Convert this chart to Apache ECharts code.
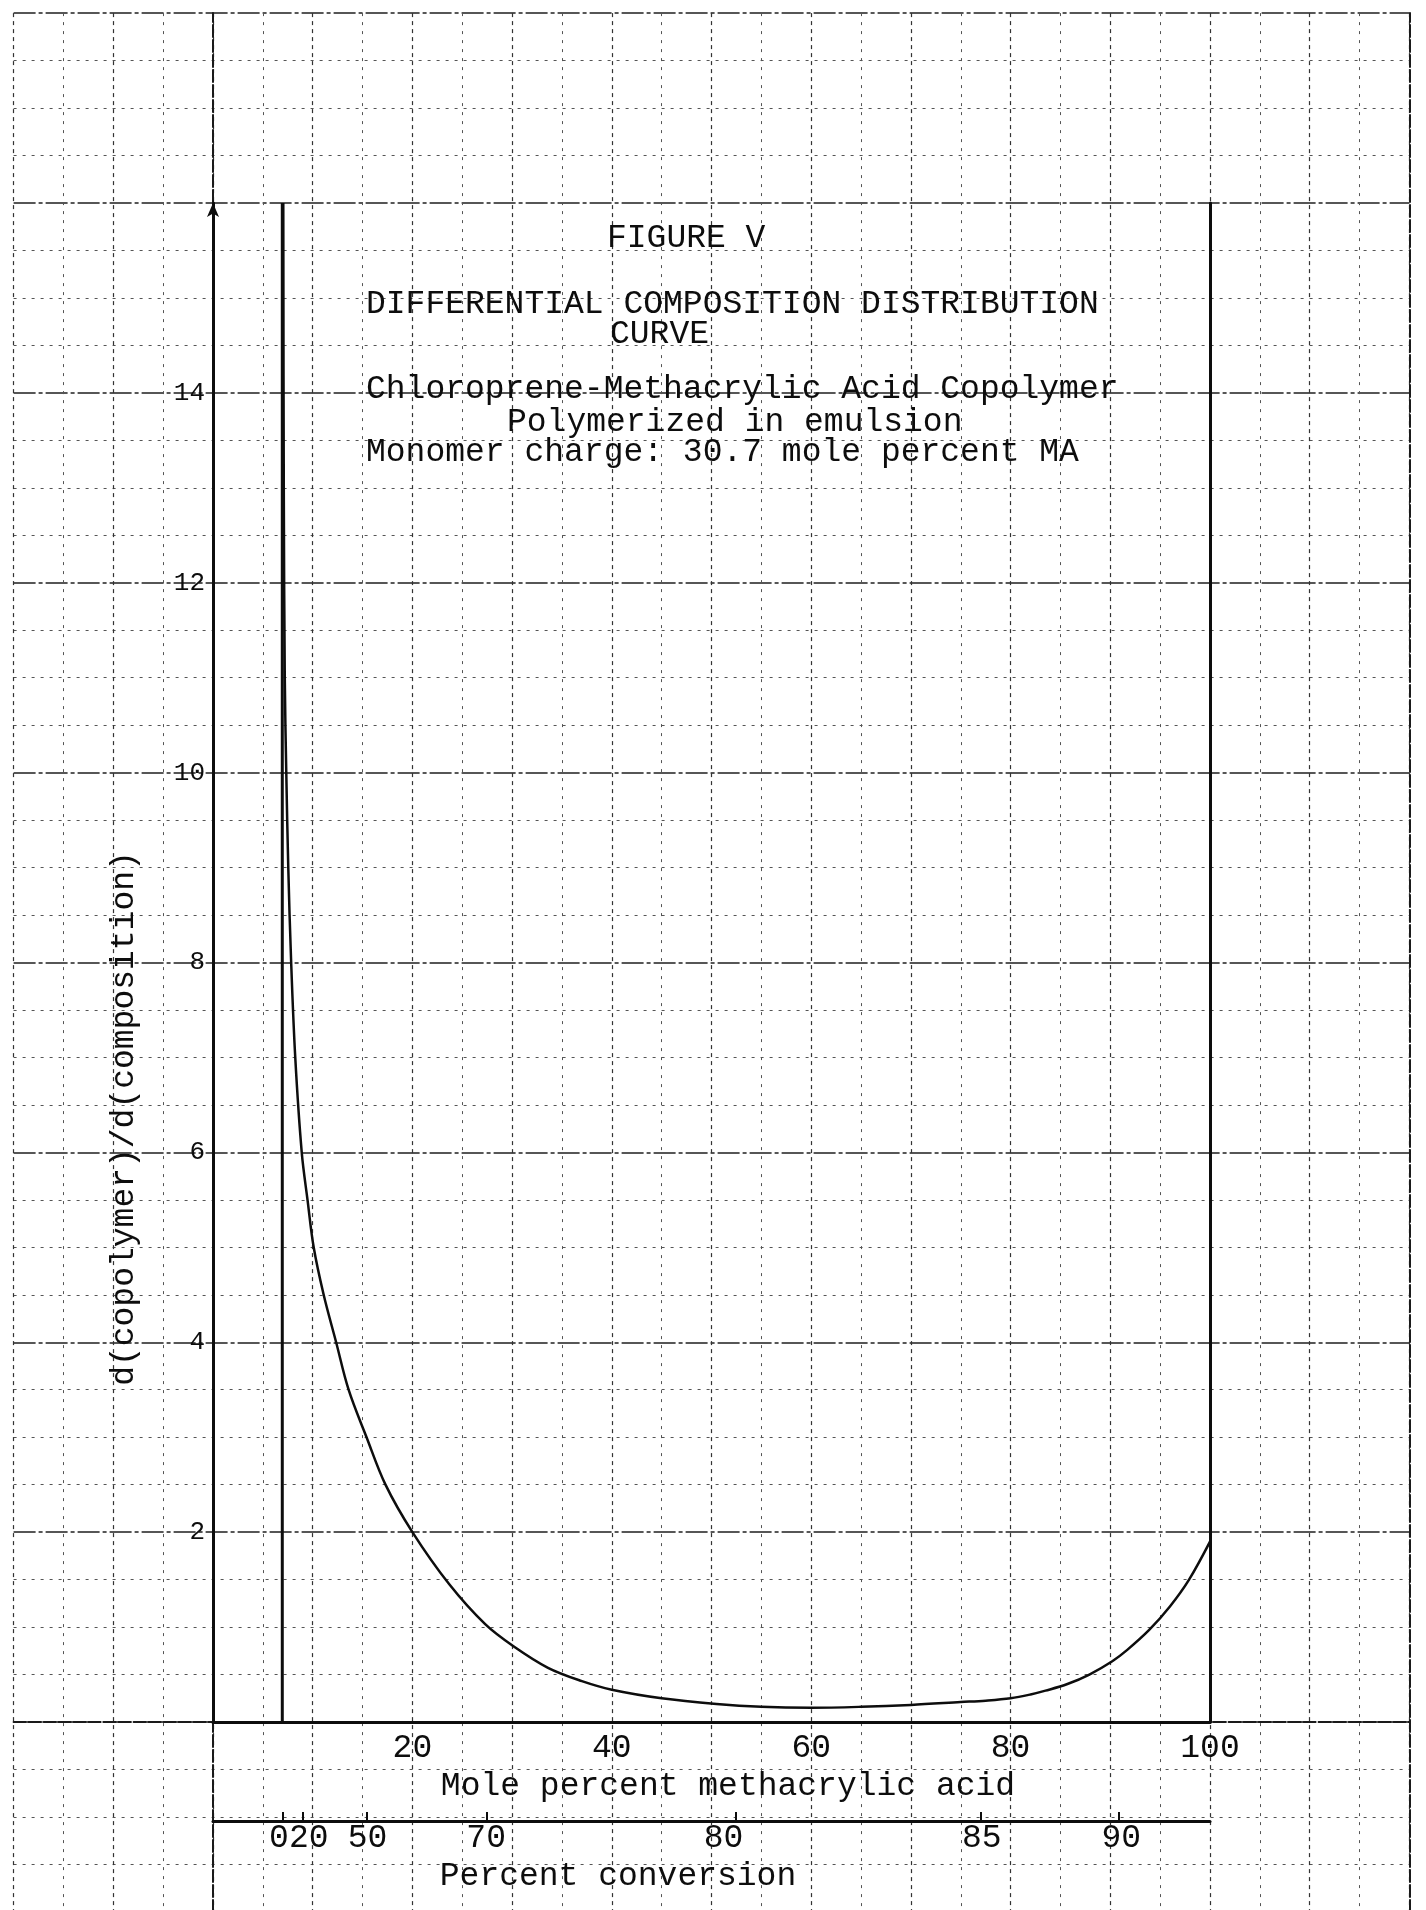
<!DOCTYPE html>
<html>
<head>
<meta charset="utf-8">
<title>Figure V</title>
<script src="https://cdn.jsdelivr.net/npm/echarts@6/dist/echarts.min.js"></script>
<style>
  html, body { margin: 0; padding: 0; background: #fff; }
  #chart { width: 1426px; height: 1910px; }
</style>
</head>
<body>
<div id="chart"></div>
<script>
// mole percent methacrylic acid -> d(copolymer)/d(composition)
const molePercent = [7.05, 7.1, 7.2, 7.35, 7.55, 7.84, 8.25, 8.9, 9.48, 10.1, 11.1, 12.35, 13.6, 15.4, 17.3, 20.0, 23.7, 27.3, 30.1, 33.6, 37.0, 40.0, 45.0, 50.5, 55.0, 60.0, 65.0, 70.0, 75.0, 77.5, 80.0, 82.0, 83.5, 85.7, 87.9, 90.2, 91.7, 93.9, 96.0, 97.9, 100];
const diffRatio = [16, 13, 11, 10, 9, 8, 7, 6, 5.5, 5, 4.5, 4, 3.5, 3, 2.5, 2, 1.45, 1.03, 0.8, 0.57, 0.43, 0.34, 0.25, 0.19, 0.16, 0.15, 0.16, 0.18, 0.21, 0.225, 0.25, 0.29, 0.33, 0.4, 0.5, 0.64, 0.76, 0.97, 1.22, 1.5, 1.9];

// composition of the copolymer formed at 0 % conversion
const initialX = [6.95, 6.95];
const initialY = [0, 16];

const xLabelValues = [20, 40, 60, 80, 100];
const yLabelValues = [2, 4, 6, 8, 10, 12, 14];

// percent conversion scale under the mole percent scale
const conversionTicks = [7.0, 9.0, 15.4, 27.5, 52.4, 77.0, 90.8];
const conversionLabelPos = [6.6, 9.6, 15.5, 27.4, 51.2, 77.1, 91.1];
const conversionLabels = ['0', '20', '50', '70', '80', '85', '90'];

const FONT = '"Liberation Mono", "Courier New", monospace';
const INK = '#0d0d0d';

const chart = echarts.init(document.getElementById('chart'));

const titleLines = [
  { text: 'FIGURE V', x: 607, y: 238 },
  { text: 'DIFFERENTIAL COMPOSITION DISTRIBUTION', x: 366, y: 304 },
  { text: 'CURVE', x: 610, y: 334 },
  { text: 'Chloroprene-Methacrylic Acid Copolymer', x: 366, y: 389 },
  { text: 'Polymerized in emulsion', x: 507, y: 422 },
  { text: 'Monomer charge: 30.7 mole percent MA', x: 366, y: 452 },
];

const option = {
  backgroundColor: '#fff',
  animation: false,
  grid: [
    // graph paper
    { left: 13.6, top: 13.1, width: 1395.8, height: 1898.8, outerBoundsMode: 'none' },
    // plot
    { left: 213, top: 203, width: 997, height: 1519, outerBoundsMode: 'none' },
  ],
  xAxis: [
    {
      gridIndex: 0, type: 'value', min: -20, max: 120, interval: 10, position: 'top',
      axisLine: { show: true, lineStyle: { color: '#1a1a1a', width: 2, type: [12, 3] } },
      axisTick: { show: false }, axisLabel: { show: false },
      splitLine: { show: true, lineStyle: { color: '#333', width: 1.2, type: [4, 4] } },
      minorTick: { show: false, splitNumber: 2 },
      minorSplitLine: { show: true, lineStyle: { color: '#555', width: 1, type: [3, 6] } },
    },
    {
      gridIndex: 1, type: 'value', min: 0, max: 100, position: 'bottom',
      axisLine: { show: true, onZero: false, lineStyle: { color: INK, width: 3 } },
      axisTick: { show: false },
      axisLabel: {
        customValues: xLabelValues, margin: 10,
        fontFamily: FONT, fontSize: 33, color: INK,
      },
      splitLine: { show: false },
      name: 'Mole percent methacrylic acid', nameLocation: 'middle', nameGap: 34,
      nameTextStyle: { fontFamily: FONT, fontSize: 33, color: INK, padding: [0, 0, 0, 33] },
    },
    {
      gridIndex: 1, type: 'value', min: 0, max: 100, position: 'bottom', offset: 99,
      axisLine: { show: true, onZero: false, lineStyle: { color: INK, width: 3 } },
      axisTick: { show: true, inside: true, length: 9, customValues: conversionTicks, lineStyle: { color: INK, width: 2 } },
      axisLabel: {
        customValues: conversionLabelPos, margin: 1,
        fontFamily: FONT, fontSize: 33, color: INK,
        formatter: v => conversionLabels[conversionLabelPos.indexOf(v)] ?? '',
      },
      splitLine: { show: false },
      name: 'Percent conversion', nameLocation: 'middle', nameGap: 14,
      nameTextStyle: { fontFamily: FONT, fontSize: 33, color: INK, padding: [0, 187, 0, 0] },
    },
  ],
  yAxis: [
    {
      gridIndex: 0, type: 'value', min: -2, max: 18, interval: 2, position: 'left',
      axisLine: { show: true, lineStyle: { color: '#1a1a1a', width: 2, type: [12, 3] } },
      axisTick: { show: false }, axisLabel: { show: false },
      splitLine: { show: true, lineStyle: { color: '#1f1f1f', width: 1.7, type: [22, 3, 4, 3] } },
      minorTick: { show: false, splitNumber: 4 },
      minorSplitLine: { show: true, lineStyle: { color: '#555', width: 1, type: [3, 6] } },
    },
    {
      gridIndex: 0, type: 'value', min: -2, max: 18, position: 'right',
      axisLine: { show: true, lineStyle: { color: '#1a1a1a', width: 2, type: [12, 3] } },
      axisTick: { show: false }, axisLabel: { show: false }, splitLine: { show: false },
    },
    {
      gridIndex: 1, type: 'value', min: 0, max: 16, position: 'left',
      axisLine: { show: true, onZero: false, symbol: ['none', 'arrow'], symbolSize: [9, 14], lineStyle: { color: INK, width: 3 } },
      axisTick: { show: false },
      axisLabel: { customValues: yLabelValues, margin: 8, fontFamily: FONT, fontSize: 26, color: INK },
      splitLine: { show: false },
      name: 'd(copolymer)/d(composition)', nameLocation: 'middle', nameRotate: 90, nameGap: 72,
      nameTextStyle: { fontFamily: FONT, fontSize: 33, color: INK, padding: [0, 312, 0, 0] },
    },
    {
      gridIndex: 1, type: 'value', min: 0, max: 16, position: 'right',
      axisLine: { show: true, onZero: false, lineStyle: { color: INK, width: 3 } },
      axisTick: { show: false }, axisLabel: { show: false }, splitLine: { show: false },
    },
  ],
  series: [
    {
      type: 'line', xAxisIndex: 1, yAxisIndex: 2,
      data: molePercent.map((x, i) => [x, diffRatio[i]]),
      showSymbol: false, smooth: 0.35,
      lineStyle: { color: INK, width: 2.5 },
    },
    {
      type: 'line', xAxisIndex: 1, yAxisIndex: 2,
      data: initialX.map((x, i) => [x, initialY[i]]),
      showSymbol: false,
      lineStyle: { color: INK, width: 3 },
    },
  ],
  graphic: titleLines.map(t => ({
    type: 'text', x: t.x, y: t.y, z: 10,
    style: { text: t.text, font: '33px ' + FONT, fill: INK, verticalAlign: 'middle' },
  })),
};

chart.setOption(option);
</script>
</body>
</html>
